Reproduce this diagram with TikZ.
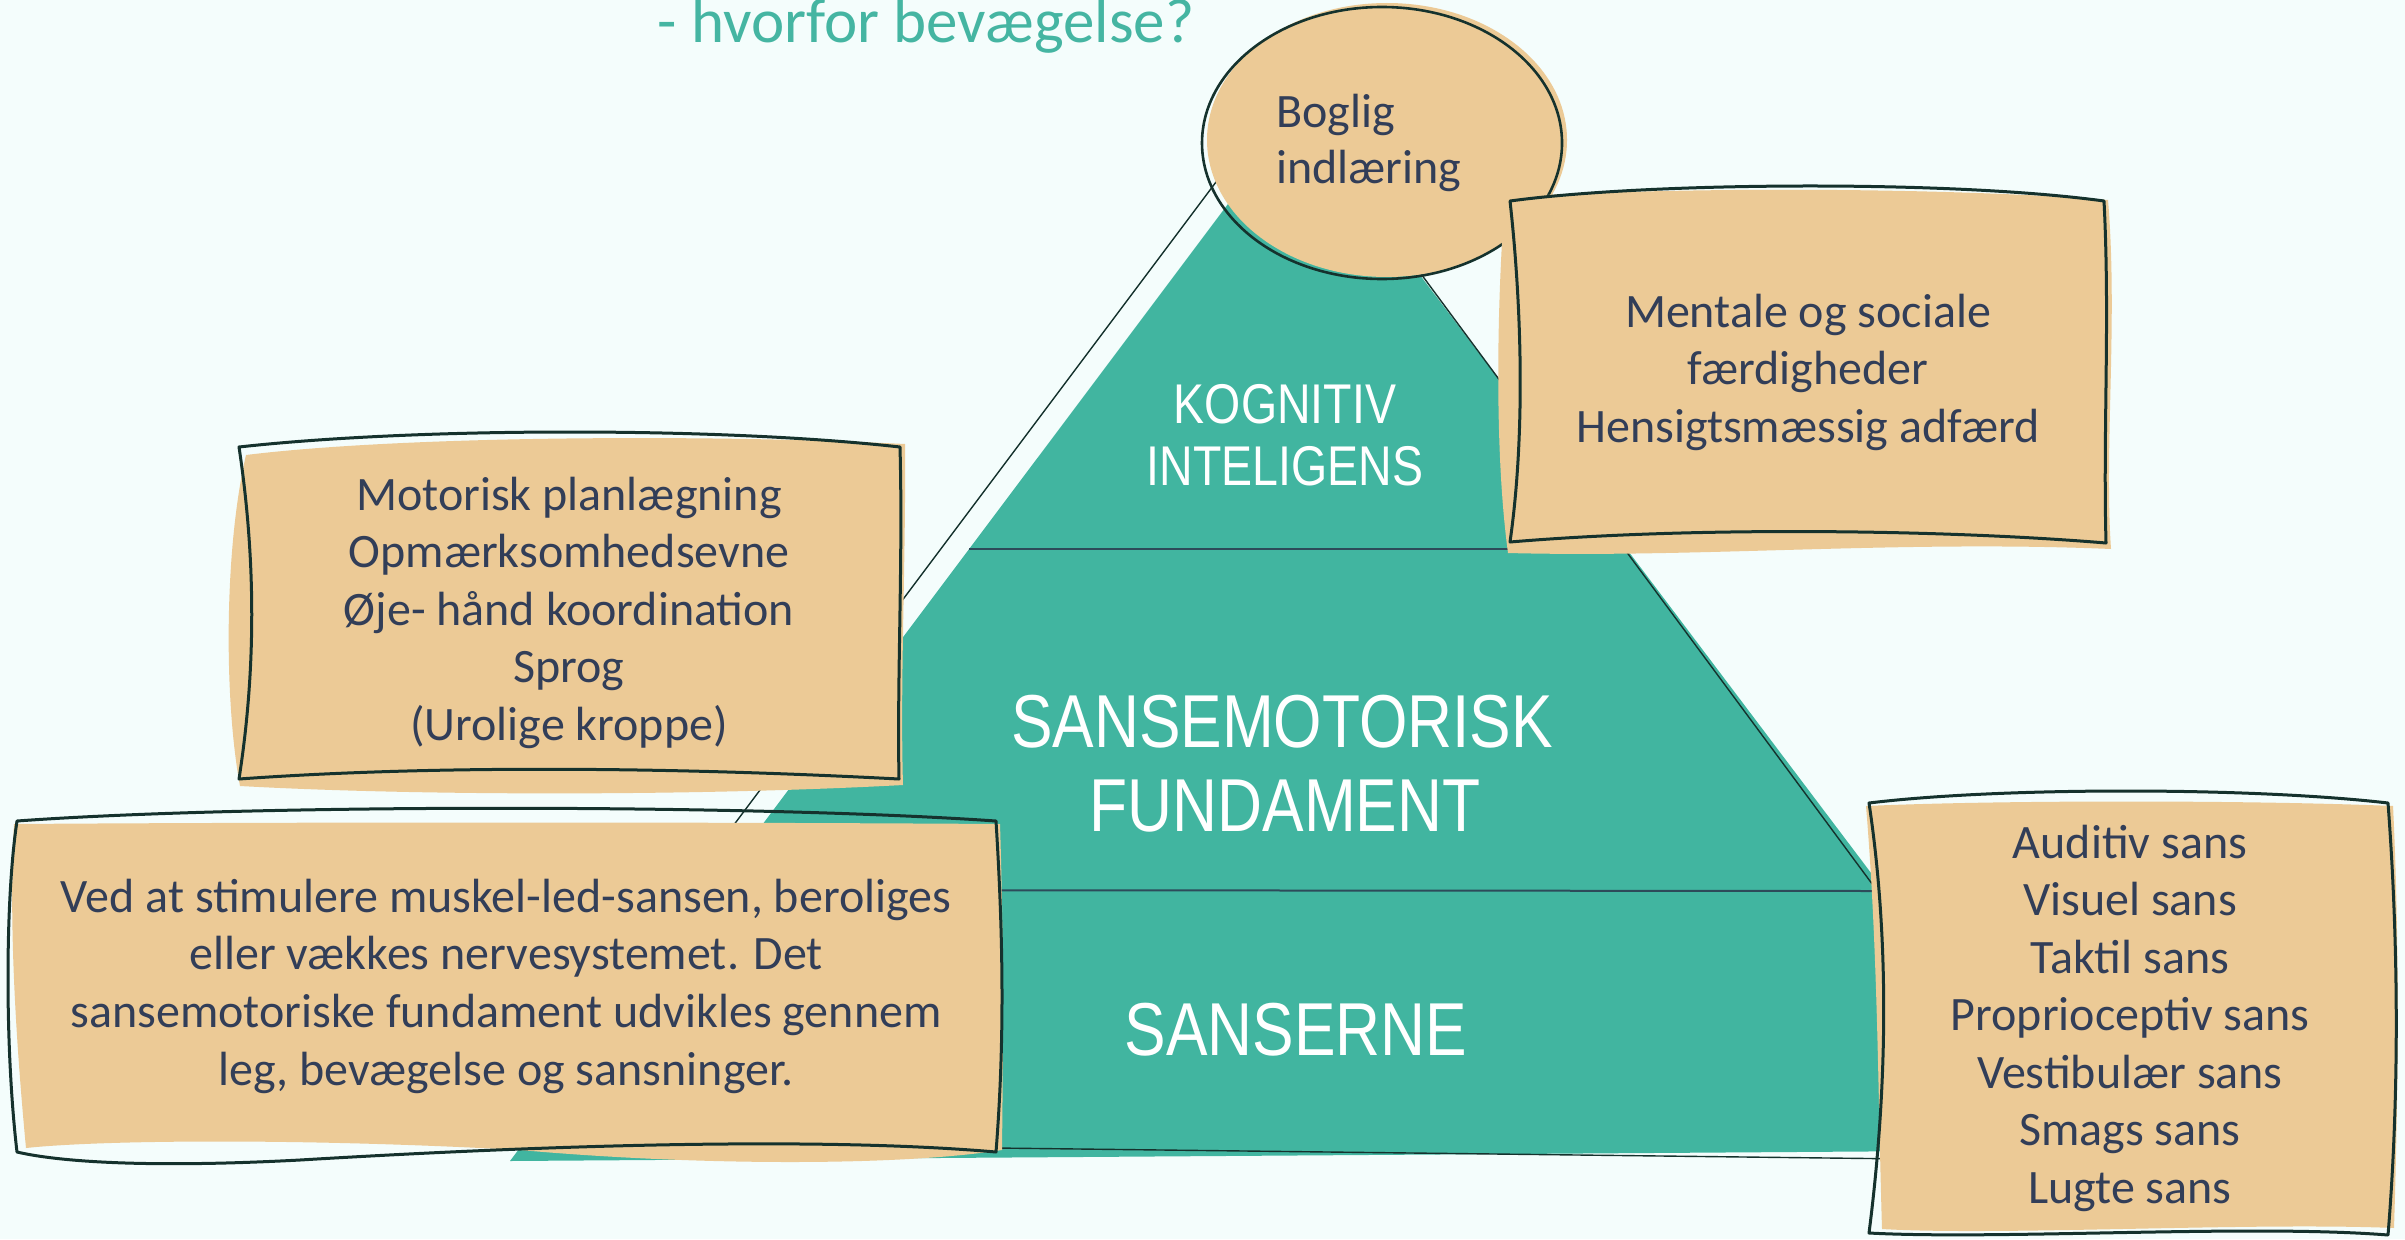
\documentclass[tikz,border=0pt]{standalone}
\usepackage{fontspec}
\newfontfamily\handfont{Carlito}
\newfontfamily\pyrfont{Liberation Sans}[FakeStretch=0.83]
\definecolor{paper}{HTML}{F4FDFC}
\definecolor{pyrteal}{HTML}{41B5A0}
\definecolor{titleteal}{HTML}{45B5A2}
\definecolor{sand}{HTML}{ECCA96}
\definecolor{ink}{HTML}{323E58}
\definecolor{pen}{HTML}{15322D}
\definecolor{slate}{HTML}{2D4B5A}
\tikzset{
  boxtext/.style={font={\handfont\fontsize{48}{56}\selectfont}, text=ink, anchor=base, inner sep=0pt},
  bigpyr/.style={font={\pyrfont\fontsize{75}{84}\selectfont}, text=white, anchor=base, inner sep=0pt},
  smallpyr/.style={font={\pyrfont\fontsize{56}{62}\selectfont}, text=white, anchor=base, inner sep=0pt},
  notefill/.style={fill=sand},
  noteedge/.style={draw=pen, line width=3pt, line join=round},
  pyredge/.style={draw=pen, line width=1.4pt},
  divider/.style={draw=slate, line width=2pt},
}
\begin{document}
\begin{tikzpicture}[x=1pt,y=-1pt]
\useasboundingbox (0,0) rectangle (2405,1239);
\fill[paper] (0,0) rectangle (2405,1239);

% heading
\node[font={\handfont\fontsize{63}{70}\selectfont}, text=titleteal, anchor=base, inner sep=0pt] (heading) at (926,43) {- hvorfor bevægelse?};

% pyramid body and its sketched outline
\fill[pyrteal] (1297,112) -- (2080,1150) -- (510,1161) -- cycle;
\draw[pyredge] (1285,90) -- (2077,1161) -- (496,1142) -- cycle;
\draw[divider] (969,549) -- (1560,549);
\draw[divider] (713,890) -- (1875,891);

% level labels
\node[smallpyr] (kog1) at (1285,423) {KOGNITIV};
\node[smallpyr] (kog2) at (1285,485) {INTELIGENS};
\node[bigpyr] (sm1) at (1282,747) {SANSEMOTORISK};
\node[bigpyr] (sm2) at (1285,831) {FUNDAMENT};
\node[bigpyr] (sans) at (1296,1055) {SANSERNE};

% top bubble
\fill[sand] (1387,140) ellipse [x radius=180, y radius=137];
\draw[pen, line width=2.6pt] (1382,143) ellipse [x radius=180, y radius=136];
\node[boxtext, anchor=base west] (bog1) at (1276,127) {Boglig};
\node[boxtext, anchor=base west] (bog2) at (1276,183) {indlæring};

% note: mental and social skills
\fill[notefill] (1505,197) .. controls (1700,186) and (1950,188) .. (2108,200)
  .. controls (2118,320) and (2104,450) .. (2111,549)
  .. controls (1900,540) and (1700,558) .. (1508,553)
  .. controls (1494,450) and (1497,300) .. (1505,197) -- cycle;
\draw[noteedge] (1510,201) .. controls (1650,182) and (1950,180) .. (2104,201)
  .. controls (2110,320) and (2103,430) .. (2106,543)
  .. controls (1950,530) and (1700,526) .. (1510,542)
  .. controls (1526,430) and (1521,300) .. (1510,201) -- cycle;
\foreach \t [count=\i] in {Mentale og sociale, færdigheder, Hensigtsmæssig adfærd}
  \node[boxtext] (men\i) at (1808,{327+57.5*(\i-1)}) {\t};

% note: motor planning
\fill[notefill] (246,455) .. controls (400,436) and (700,434) .. (905,444)
  .. controls (906,560) and (900,680) .. (903,785)
  .. controls (700,796) and (420,796) .. (240,786)
  .. controls (224,700) and (224,550) .. (246,455) -- cycle;
\draw[noteedge] (239,447) .. controls (420,427) and (720,427) .. (900,447)
  .. controls (903,560) and (897,680) .. (899,779)
  .. controls (650,766) and (420,766) .. (239,779)
  .. controls (256,670) and (256,560) .. (239,447) -- cycle;
\foreach \t [count=\i] in {Motorisk planlægning, Opmærksomhedsevne, Øje- hånd koordination, Sprog, (Urolige kroppe)}
  \node[boxtext] (mot\i) at (569,{510+57.5*(\i-1)}) {\t};

% note: stimulation text
\fill[notefill] (14,824) .. controls (300,822) and (700,822) .. (1000,824)
  .. controls (1004,950) and (1003,1060) .. (1002,1150)
  .. controls (900,1166) and (700,1166) .. (520,1150)
  .. controls (300,1138) and (100,1140) .. (26,1148)
  .. controls (12,1000) and (10,900) .. (14,824) -- cycle;
\draw[noteedge] (17,821) .. controls (250,804) and (750,804) .. (996,821)
  .. controls (1004,950) and (1004,1050) .. (996,1152)
  .. controls (800,1135) and (500,1148) .. (300,1160)
  .. controls (150,1168) and (60,1162) .. (17,1152)
  .. controls (5,1050) and (5,900) .. (17,821) -- cycle;
\foreach \t [count=\i] in {{Ved at stimulere muskel-led-sansen, beroliges}, {eller vækkes nervesystemet. Det}, {sansemotoriske fundament udvikles gennem}, {leg, bevægelse og sansninger.}}
  \node[boxtext] (ved\i) at (506,{912+57.7*(\i-1)}) {\t};

% note: the senses
\fill[notefill] (1866,806) .. controls (2000,800) and (2250,800) .. (2393,806)
  .. controls (2400,950) and (2398,1100) .. (2394,1228)
  .. controls (2250,1222) and (2000,1236) .. (1882,1229)
  .. controls (1878,1100) and (1878,950) .. (1866,806) -- cycle;
\draw[noteedge] (1869,803) .. controls (2000,787) and (2250,787) .. (2388,803)
  .. controls (2399,950) and (2399,1100) .. (2388,1235)
  .. controls (2250,1224) and (2000,1240) .. (1869,1233)
  .. controls (1886,1100) and (1891,950) .. (1869,803) -- cycle;
\foreach \t [count=\i] in {Auditiv sans, Visuel sans, Taktil sans, Proprioceptiv sans, Vestibulær sans, Smags sans, Lugte sans}
  \node[boxtext] (sense\i) at (2130,{858+57.5*(\i-1)}) {\t};
\end{tikzpicture}
\end{document}
